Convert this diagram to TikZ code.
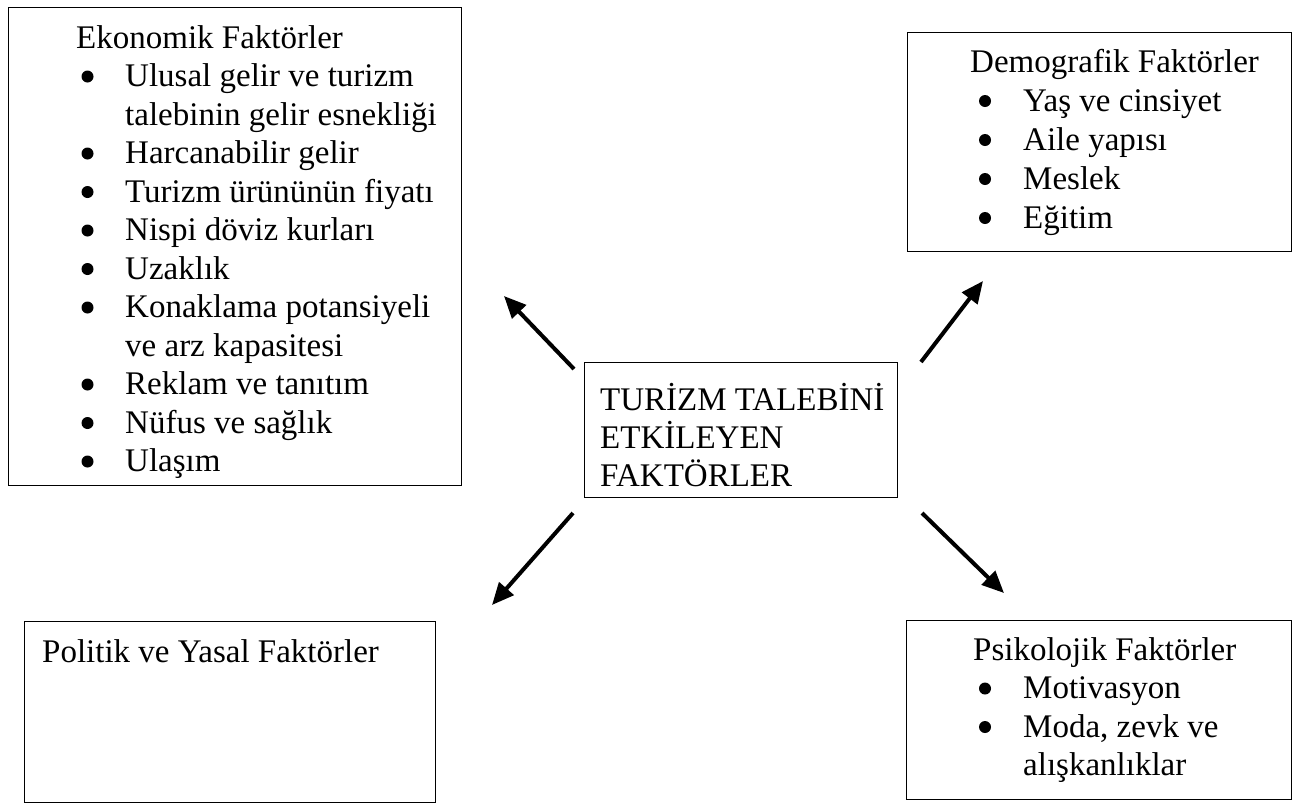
\documentclass[tikz,border=0pt]{standalone}
\usepackage{fontspec}
\setmainfont{Liberation Serif}
\usetikzlibrary{arrows.meta}
\begin{document}
\begin{tikzpicture}[x=1pt,y=-1pt,
  box/.style={draw=black,line width=1.2pt,inner sep=0pt,anchor=north west},
  txt/.style={inner sep=0pt,anchor=base west,font=\fontsize{33}{38}\selectfont},
  dot/.style={circle,fill=black,inner sep=0pt,minimum size=12pt},
  link/.style={line width=4pt,-{Triangle[length=22pt,width=19pt]}}]
\useasboundingbox (0,0) rectangle (1305,804);

% boxes
\node[box,minimum width=453pt,minimum height=478pt] (eko) at (8,7) {};
\node[box,minimum width=384pt,minimum height=219pt] (demo) at (907,32) {};
\node[box,minimum width=313pt,minimum height=135pt] (center) at (584,362) {};
\node[box,minimum width=411pt,minimum height=181pt] (poli) at (24,621) {};
\node[box,minimum width=385pt,minimum height=179pt] (psi) at (906,620) {};

% economic factors
\node[txt] (eko-t) at (76,48) {Ekonomik Faktörler};
\foreach \i/\b/\t in {1/1/{Ulusal gelir ve turizm},
                      2/0/{talebinin gelir esnekliği},
                      3/1/{Harcanabilir gelir},
                      4/1/{Turizm ürününün fiyatı},
                      5/1/{Nispi döviz kurları},
                      6/1/{Uzaklık},
                      7/1/{Konaklama potansiyeli},
                      8/0/{ve arz kapasitesi},
                      9/1/{Reklam ve tanıtım},
                      10/1/{Nüfus ve sağlık},
                      11/1/{Ulaşım}}{
  \node[txt] (eko-\i) at (125,48+38.5*\i) {\t};
  \ifnum\b=1 \node[dot] (eko-b\i) at (87.5,38+38.5*\i) {};\fi
}

% demographic factors
\node[txt] (demo-t) at (970,72) {Demografik Faktörler};
\foreach \i/\t in {1/{Yaş ve cinsiyet},2/{Aile yapısı},3/{Meslek},4/{Eğitim}}{
  \node[txt] (demo-\i) at (1023,72+39*\i) {\t};
  \node[dot] (demo-b\i) at (985,62+39*\i) {};
}

% centre
\node[txt] (c1) at (600,410) {TURİZM TALEBİNİ};
\node[txt] (c2) at (600,448) {ETKİLEYEN};
\node[txt] (c3) at (600,486) {FAKTÖRLER};

% political factors
\node[txt] (poli-t) at (42,662) {Politik ve Yasal Faktörler};

% psychological factors
\node[txt] (psi-t) at (973,660) {Psikolojik Faktörler};
\node[txt] (psi-1) at (1023,698.5) {Motivasyon};
\node[dot] (psi-b1) at (985,688.5) {};
\node[txt] (psi-2) at (1023,737) {Moda, zevk ve};
\node[dot] (psi-b2) at (985,727) {};
\node[txt] (psi-3) at (1023,775.5) {alışkanlıklar};

% arrows
\coordinate (ul-s) at (574,369);
\coordinate (ul-e) at (504,296);
\coordinate (ur-s) at (921,362);
\coordinate (ur-e) at (983,281);
\coordinate (ll-s) at (573,513);
\coordinate (ll-e) at (492,605);
\coordinate (lr-s) at (922,513);
\coordinate (lr-e) at (1004,593);
\draw[link] (ul-s) -- (ul-e);
\draw[link] (ur-s) -- (ur-e);
\draw[link] (ll-s) -- (ll-e);
\draw[link] (lr-s) -- (lr-e);
\end{tikzpicture}
\end{document}
